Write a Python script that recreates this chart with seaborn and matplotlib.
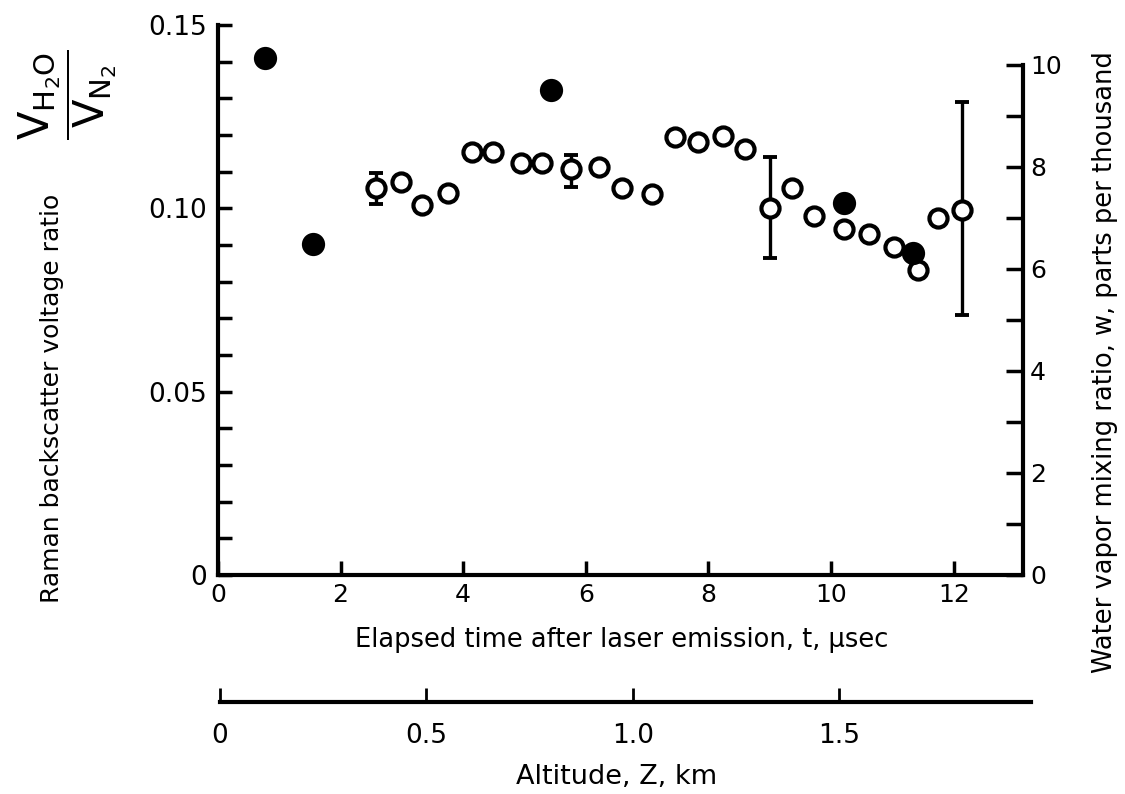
import matplotlib
matplotlib.use("Agg")
import matplotlib.pyplot as plt
import seaborn as sns
import numpy as np
import pandas as pd
from matplotlib.ticker import MultipleLocator

# ---- data ----
t_filled = [0.77, 1.55, 5.43, 10.21, 11.34]
ratio_filled = [0.1410, 0.0903, 0.1323, 0.1014, 0.0878]

t_open = [2.58, 2.99, 3.33, 3.75, 4.15, 4.49, 4.94, 5.29, 5.76, 6.22, 6.59,
          7.08, 7.46, 7.83, 8.24, 8.60, 9.00, 9.36, 9.72, 10.21, 10.62,
          11.03, 11.42, 11.75, 12.14]
ratio_open = [0.1055, 0.1072, 0.1009, 0.1042, 0.1154, 0.1154, 0.1124, 0.1124,
              0.1107, 0.1113, 0.1055, 0.1039, 0.1194, 0.1181, 0.1197, 0.1162,
              0.1001, 0.1055, 0.0979, 0.0944, 0.0930, 0.0894, 0.0832, 0.0974,
              0.0995]

t_err = [2.58, 5.76, 9.00, 12.14]
ratio_err = [0.1055, 0.1107, 0.1001, 0.0995]
err_low = [0.1012, 0.1058, 0.0864, 0.0709]
err_high = [0.1096, 0.1145, 0.1140, 0.1290]

left_ticks = [0, 0.05, 0.10, 0.15]
left_labels = ["0", "0.05", "0.10", "0.15"]
right_ticks = [0, 2, 4, 6, 8, 10]
time_ticks = [0, 2, 4, 6, 8, 10, 12]
alt_ticks = [0, 0.5, 1.0, 1.5]
alt_labels = ["0", "0.5", "1.0", "1.5"]

sns.set_style("ticks")
plt.rcParams['font.family'] = ['DejaVu Sans']
for key in ['text.color', 'axes.labelcolor', 'xtick.color', 'ytick.color', 'axes.edgecolor']:
    plt.rcParams[key] = 'black'

W, H = 1125, 794
fig = plt.figure(figsize=(W / 100, H / 100), dpi=100)
ax = fig.add_axes([218 / W, 1 - 575 / H, (1023 - 218) / W, 550 / H])

df_open = pd.DataFrame({"t": t_open, "ratio": ratio_open})
df_filled = pd.DataFrame({"t": t_filled, "ratio": ratio_filled})

yerr = [np.array(ratio_err) - np.array(err_low), np.array(err_high) - np.array(ratio_err)]
ax.errorbar(t_err, ratio_err, yerr=yerr, fmt='none', ecolor='black',
            elinewidth=2.4, capsize=5, capthick=2.8, zorder=2)
sns.scatterplot(data=df_open, x="t", y="ratio", ax=ax, marker='o', s=170,
                facecolor='white', edgecolor='black', linewidth=3, zorder=3)
sns.scatterplot(data=df_filled, x="t", y="ratio", ax=ax, marker='o', s=280,
                color='black', edgecolor='black', linewidth=0, zorder=4)

ax.set_xlim(0, 13.13)
ax.set_ylim(0, 0.15)
ax.set_xlabel("")
ax.set_ylabel("")
ax.spines['top'].set_visible(False)
ax.spines['right'].set_visible(False)
for s in ['left', 'bottom']:
    ax.spines[s].set_linewidth(3)
ax.set_xticks(time_ticks)
ax.set_xticklabels([str(v) for v in time_ticks])
ax.set_yticks(left_ticks)
ax.set_yticklabels(left_labels)
ax.yaxis.set_minor_locator(MultipleLocator(0.01))
ax.tick_params(axis='y', which='both', direction='in', width=2.5, length=10,
               labelsize=19, pad=8)
ax.tick_params(axis='x', which='both', direction='in', width=2.5, length=10,
               labelsize=18, pad=6)

# right axis
axr = ax.twinx()
axr.set_ylim(0, 10.78)
axr.spines['top'].set_visible(False)
axr.spines['left'].set_visible(False)
axr.spines['bottom'].set_visible(False)
axr.spines['right'].set_linewidth(3)
axr.spines['right'].set_bounds(0, 10)
axr.set_yticks(right_ticks)
axr.set_yticklabels([str(v) for v in right_ticks])
axr.yaxis.set_minor_locator(MultipleLocator(1))
axr.tick_params(axis='y', which='both', direction='in', width=2.5, length=12,
                labelsize=18, pad=5)

# altitude axis
axa = fig.add_axes([220 / W, 1 - 702 / H, (1031 - 220) / W, 0.0001])
axa.set_xlim(0, 1.965)
axa.set_ylim(0, 1)
for s in ['top', 'left', 'right']:
    axa.spines[s].set_visible(False)
axa.spines['bottom'].set_linewidth(3)
axa.set_yticks([])
axa.set_xticks(alt_ticks)
axa.set_xticklabels(alt_labels)
axa.tick_params(axis='x', direction='in', width=2, length=10, labelsize=19, pad=15)
axa.patch.set_visible(False)

# labels
fig.text(622 / W, 1 - 640 / H, "Elapsed time after laser emission, t, µsec",
         ha='center', va='center', fontsize=18.5)
fig.text(617 / W, 1 - 777 / H, "Altitude, Z, km", ha='center', va='center', fontsize=19.5)
fig.text(1105 / W, 1 - 362 / H, "Water vapor mixing ratio, w, parts per thousand",
         rotation=90, ha='center', va='center', fontsize=18.5)
fig.text(52 / W, 1 - 398 / H, "Raman backscatter voltage ratio",
         rotation=90, ha='center', va='center', fontsize=18)
fig.text(68 / W, 1 - 95 / H, r"$\dfrac{\mathrm{V_{H_2O}}}{\mathrm{V_{N_2}}}$",
         rotation=90, ha='center', va='center', fontsize=30)

fig.savefig("out.png", dpi=100)
